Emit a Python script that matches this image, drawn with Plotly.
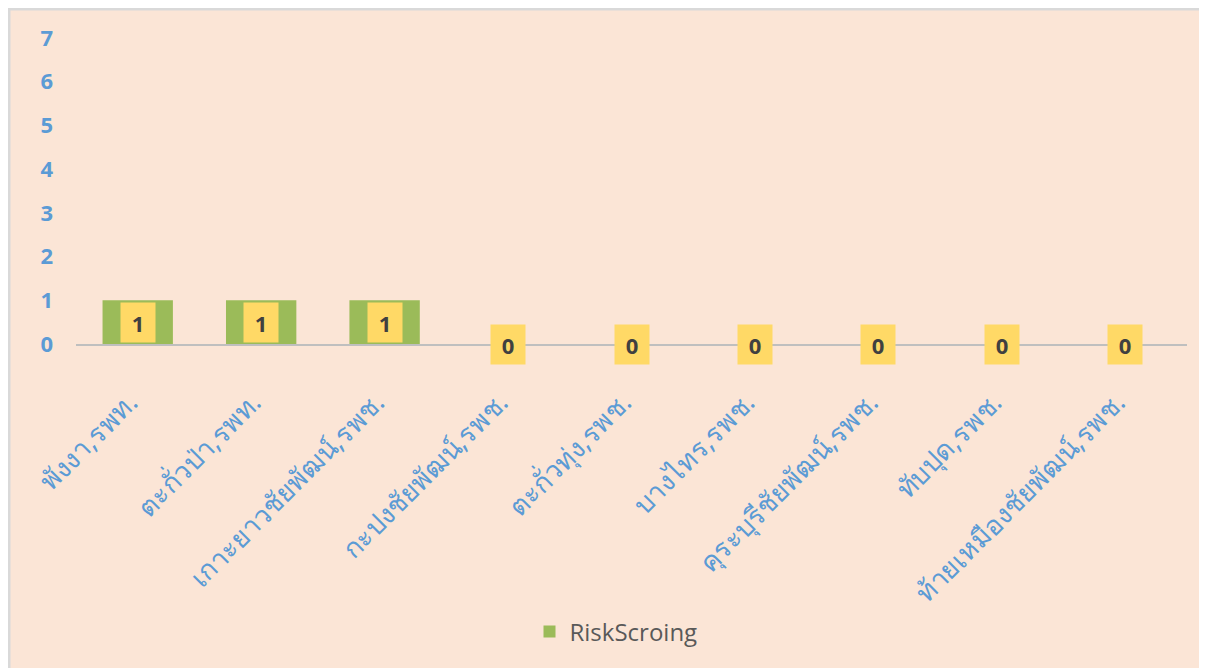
import plotly.graph_objects as go

categories = ["พังงา,รพท.", "ตะกั่วป่า,รพท.", "เกาะยาวชัยพัฒน์,รพช.", "กะปงชัยพัฒน์,รพช.",
              "ตะกั่วทุ่ง,รพช.", "บางไทร,รพช.", "คุระบุรีชัยพัฒน์,รพช.", "ทับปุด,รพช.",
              "ท้ายเหมืองชัยพัฒน์,รพช."]
values = [1, 1, 1, 0, 0, 0, 0, 0, 0]
series_name = "RiskScroing"
y_ticks = [0, 1, 2, 3, 4, 5, 6, 7]

# page body has an 8px margin, so the figure is drawn 8px smaller
W, H = 1199, 660
L, R, T, B = 68, 20, 30, 324
pw, ph = W - L - R, H - T - B

def px_x(px):
    return (px - L) / pw

def px_y(py):
    return (H - B - py) / ph

fig = go.Figure()
fig.add_trace(go.Bar(
    x=categories, y=values, name=series_name,
    marker=dict(color="#9BBB59", line=dict(width=0)),
    width=0.57, showlegend=True,
))

annotations = []
for c, v in zip(categories, values):
    annotations.append(dict(
        x=c, y=v / 2, xref="x", yref="y", text="<b>%d</b>" % v, showarrow=False,
        bgcolor="#FFD966", width=34, height=39, borderpad=0,
        font=dict(family="Open Sans", size=22, color="#404040"),
    ))

fig.update_layout(
    width=W, height=H,
    margin=dict(l=L, r=R, t=T, b=B),
    paper_bgcolor="#FBE5D6",
    plot_bgcolor="rgba(0,0,0,0)",
    annotations=annotations,
    shapes=[
        dict(type="line", xref="paper", yref="paper",
             x0=px_x(1), x1=px_x(1), y0=px_y(H), y1=px_y(0),
             line=dict(color="#D9D9D9", width=3), layer="below"),
        dict(type="line", xref="paper", yref="paper",
             x0=px_x(0), x1=px_x(W), y0=px_y(1), y1=px_y(1),
             line=dict(color="#D9D9D9", width=3), layer="below"),
    ],
    xaxis=dict(
        showline=True, linecolor="#BFBFBF", linewidth=2, showgrid=False,
        tickangle=-45, ticks="", ticklabelstandoff=30, ticklabelshift=-8,
        tickfont=dict(family="Noto Sans, sans-serif", size=27, color="#5B9BD5"),
        range=[-0.5, 8.5],
    ),
    yaxis=dict(
        range=[0, 7], tickvals=y_ticks, showgrid=False, zeroline=False, showline=False,
        ticks="", ticklabelstandoff=22,
        tickfont=dict(family="Open Sans", size=22, color="#5B9BD5", weight="bold"),
    ),
    legend=dict(orientation="h", x=px_x(608), xanchor="center", y=px_y(624), yanchor="middle",
                font=dict(family="Open Sans", size=24, color="#595959"),
                bgcolor="rgba(0,0,0,0)"),
)

fig.write_html("out.html")
